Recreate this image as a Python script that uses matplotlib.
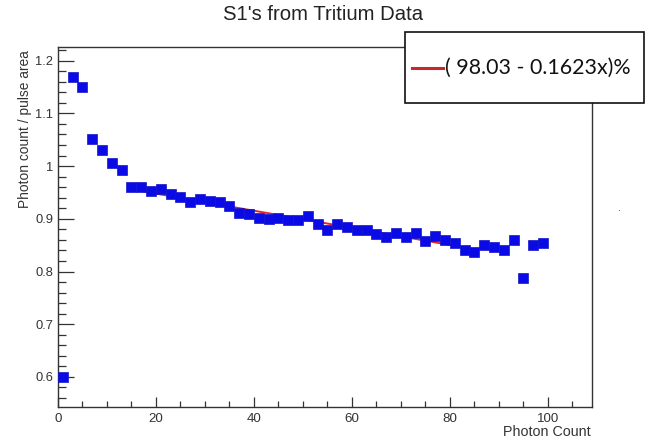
import numpy as np
import matplotlib
matplotlib.use("Agg")
import matplotlib.pyplot as plt
from matplotlib.patches import Rectangle
from matplotlib.lines import Line2D
from matplotlib.ticker import MultipleLocator, FuncFormatter

# ---- data ----
photon_count = [1, 3, 5, 7, 9, 11, 13, 15, 17, 19, 21, 23, 25, 27, 29, 31, 33, 35, 37, 39,
                41, 43, 45, 47, 49, 51, 53, 55, 57, 59, 61, 63, 65, 67, 69, 71, 73, 75, 77, 79,
                81, 83, 85, 87, 89, 91, 93, 95, 97, 99]
ratio = [0.600, 1.170, 1.150, 1.051, 1.030, 1.006, 0.993, 0.961, 0.961, 0.952,
         0.956, 0.947, 0.942, 0.932, 0.938, 0.933, 0.931, 0.924, 0.912, 0.910,
         0.901, 0.900, 0.902, 0.897, 0.897, 0.905, 0.890, 0.879, 0.890, 0.884,
         0.878, 0.878, 0.872, 0.865, 0.873, 0.866, 0.873, 0.857, 0.868, 0.859,
         0.855, 0.840, 0.837, 0.851, 0.847, 0.840, 0.859, 0.788, 0.851, 0.855]
fit_intercept = 98.03   # percent
fit_slope = -0.1623     # percent per photon
fit_range = [14.3, 80.3]
fit_label = "( 98.03 - 0.1623x)%"

title = "S1's from Tritium Data"
xlabel = "Photon Count"
ylabel = "Photon count / pulse area"

# ---- figure ----
W, H = 646, 441
fig = plt.figure(figsize=(W / 100, H / 100), dpi=100)
fig.patch.set_facecolor("white")
plt.rcParams["font.family"] = ["Liberation Sans", "DejaVu Sans"]

L, R, B, T = 58, 592, 407, 47
ax = fig.add_axes([L / W, 1 - B / H, (R - L) / W, (B - T) / H])

ax.plot(photon_count, ratio, linestyle="none", marker="s", markersize=6.6,
        color="#0a0ae6", markeredgecolor="#1414c8", markeredgewidth=0.5, zorder=3)

xf = np.array(fit_range)
yf = (fit_intercept + fit_slope * xf) / 100.0
ax.plot(xf, yf, color="#e0262b", linewidth=1.4, zorder=2)

ax.set_xlim(0, 109)
ax.set_ylim(0.543, 1.226)

ax.xaxis.set_major_locator(MultipleLocator(20))
ax.xaxis.set_minor_locator(MultipleLocator(5))
ax.yaxis.set_major_locator(MultipleLocator(0.1))
ax.yaxis.set_minor_locator(MultipleLocator(0.02))
ax.yaxis.set_major_formatter(FuncFormatter(lambda v, p: ("%.1f" % v).rstrip("0").rstrip(".")))

for s in ["left", "bottom", "top", "right"]:
    ax.spines[s].set_linewidth(1.0)
    ax.spines[s].set_color("#333333")

ax.tick_params(axis="y", which="major", direction="in", length=11.3, width=0.9,
               color="#333333", labelsize=9.3, labelcolor="#333333", pad=3.6)
ax.tick_params(axis="y", which="minor", direction="in", length=5.8, width=0.9, color="#333333")
ax.tick_params(axis="x", which="major", direction="in", length=7.5, width=0.9,
               color="#333333", labelsize=9.6, labelcolor="#333333", pad=4)
ax.tick_params(axis="x", which="minor", direction="in", length=4.0, width=0.9, color="#333333")

fig.text(323 / W, 1 - 15 / H, title, ha="center", va="center", fontsize=14.6, color="#222222")
fig.text(591 / W, 1 - 432 / H, xlabel, ha="right", va="center", fontsize=10.3, color="#333333")
fig.text(25 / W, 1 - 129 / H, ylabel, ha="center", va="center", rotation=90,
         fontsize=9.9, color="#333333")

# legend box
lx0, lx1, ly0, ly1 = 405, 644, 32, 103
fig.patches.append(Rectangle((lx0 / W, 1 - ly1 / H), (lx1 - lx0) / W, (ly1 - ly0) / H,
                             transform=fig.transFigure, facecolor="white",
                             edgecolor="#111111", linewidth=1.2, zorder=10))
fig.lines.append(Line2D([412 / W, 443 / W], [1 - 67.5 / H, 1 - 67.5 / H],
                        transform=fig.transFigure, color="#c8282d", linewidth=2.2, zorder=11))
fig.text(445 / W, 1 - 67.5 / H, fit_label, ha="left", va="center", fontsize=15.4,
         family=["Lato", "DejaVu Sans"], color="#111111", zorder=12)

# small stray dot on the right
fig.text(619 / W, 1 - 212 / H, "·", ha="center", va="center", fontsize=6, color="#333333")

fig.savefig("out.png", dpi=100, facecolor="white")
